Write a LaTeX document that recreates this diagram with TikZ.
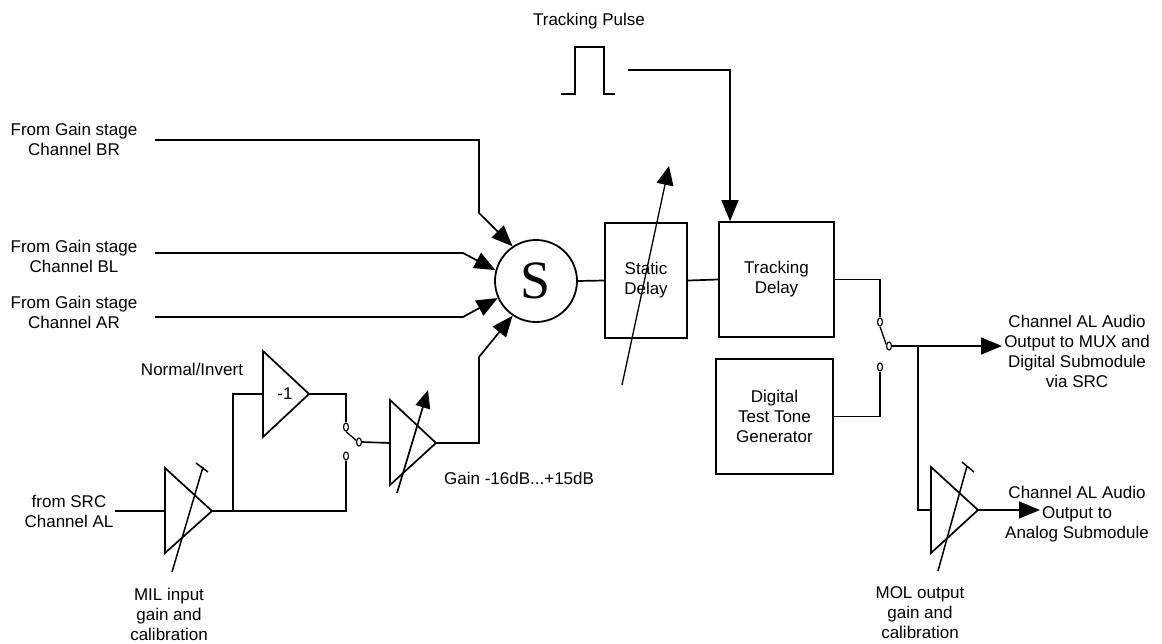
\documentclass[tikz,border=0pt]{standalone}
\usepackage{fontspec}
\setmainfont{Liberation Sans}
\newfontfamily\serifS{Liberation Serif}
\usetikzlibrary{arrows.meta,shapes.geometric}
\begin{document}
\begin{tikzpicture}[x=1pt,y=-1pt,
  wire/.style={line width=1.7pt, line join=miter},
  arr/.style={wire,-{Triangle[length=21pt,width=17pt]}},
  sarr/.style={wire,-{Triangle[length=18pt,width=15pt]}},
  thinarr/.style={line width=1.3pt,-{Triangle[length=19pt,width=17pt]}},
  blk/.style={draw, line width=1.7pt, rectangle, inner sep=0pt, align=center,
    font=\fontsize{17}{20}\selectfont},
  txt/.style={inner sep=0pt, align=center, anchor=base, font=\fontsize{17}{20}\selectfont},
  contact/.style={draw, ellipse, line width=1.2pt, fill=white, inner sep=0pt,
    minimum width=5pt, minimum height=8pt},
  ampl/.style={line width=1.7pt, line join=miter}
]
\useasboundingbox (0,0) rectangle (1162,643);

% ---- labels (anchor base = baseline of the last line)
\node[txt] (lbr) at (74,155) {From Gain stage\\Channel BR};
\node[txt] (lbl) at (74,272) {From Gain stage\\Channel BL};
\node[txt] (lar) at (74,328) {From Gain stage\\Channel AR};
\node[txt] (lsrc) at (69,527) {from SRC\\Channel AL};
\node[txt] (lmil) at (169,640) {MIL input\\gain and\\calibration};
\node[txt] (lnorm) at (192,375) {Normal/Invert};
\node[txt, anchor=base west] (lgain) at (444,484) {Gain -16dB...+15dB};
\node[txt] (lpulse) at (589,25) {Tracking Pulse};
\node[txt] (lmux) at (1077,387) {Channel AL Audio\\Output to MUX and\\Digital Submodule\\via SRC};
\node[txt] (lana) at (1077,538) {Channel AL Audio\\Output to\\Analog Submodule};
\node[txt] (lmol) at (920,638) {MOL output\\gain and\\calibration};

% ---- summing node and blocks
\node[draw, circle, line width=1.8pt, minimum size=82pt, inner sep=0pt,
  font=\serifS\fontsize{54}{54}\selectfont] (S) at (536,281) {S};
\node[blk, minimum width=82pt, minimum height=115pt] (static) at (646,280.5) {Static\\Delay};
\node[blk, minimum width=115pt, minimum height=115pt] (tdelay) at (776.5,279.5) {Tracking\\Delay};
\node[blk, minimum width=117pt, minimum height=115pt] (dttg) at (774.5,416.5) {Digital\\Test Tone\\Generator};

% ---- amplifiers
\draw[ampl] (165,468) -- (165,553) -- (212,511) -- cycle;
\coordinate (milin) at (165,511);
\coordinate (milout) at (212,511);
\draw[line width=1.5pt] (172,572) -- (203,467);
\draw[line width=1.5pt] (196,463) -- (208,472);

\draw[ampl] (263,351) -- (263,437) -- (309,394) -- cycle;
\node[txt, anchor=center] (inv) at (285,394) {-1};
\coordinate (invin) at (263,394);
\coordinate (invout) at (309,394);

\draw[ampl] (390,400) -- (390,485) -- (436,443) -- cycle;
\coordinate (gainin) at (390,443);
\coordinate (gainout) at (436,443);
\coordinate (gvb) at (397,493);
\coordinate (gvt) at (428,390);
\draw[sarr] (gvb) -- (gvt);

\draw[ampl] (931,467) -- (931,553) -- (978,510) -- cycle;
\coordinate (molin) at (931,510);
\coordinate (molout) at (978,510);
\draw[line width=1.5pt] (938,571) -- (967,466);
\draw[line width=1.5pt] (962,462) -- (974,472);

% ---- switches
\node[contact] (sw1t) at (346,427) {};
\node[contact] (sw1c) at (359,442) {};
\node[contact] (sw1b) at (346,456) {};
\node[contact] (sw2t) at (880,322) {};
\node[contact] (sw2c) at (889,346) {};
\node[contact] (sw2b) at (880,367) {};
\draw[line width=1.3pt] (sw1c.150) -- (sw1t.south);
\draw[line width=1.3pt] (sw2c.150) -- (sw2t.south);

% ---- input wires to summer
\coordinate (inbr) at (155,140);
\coordinate (inbl) at (155,253);
\coordinate (inar) at (155,317);
\draw[arr] (inbr) -- (479,140) -- (479,213) -- (S.124);
\draw[arr] (inbl) -- (463,253) -- (S.165);
\draw[arr] (inar) -- (463,317) -- (S.204);
\draw[arr] (gainout) -- (479,443) -- (479,357) -- (S.236);

% ---- left input path
\coordinate (srcin) at (115,511);
\draw[wire] (srcin) -- (milin);
\draw[wire] (milout) -- (milout -| sw1b) -- (sw1b.south);
\coordinate (split) at (233,511);
\draw[wire] (split) -- (split |- invin) -- (invin);
\draw[wire] (invout) -- (invout -| sw1t) -- (sw1t.north);
\draw[wire] (sw1c.east) -- (gainin);

% ---- delay chain
\draw[wire] (S.east) -- (static.west);
\draw[wire] (static.east) -- (tdelay.west);
\coordinate (svb) at (622,385);
\coordinate (svt) at (669,166);
\draw[thinarr] (svb) -- (svt);

% ---- tracking pulse
\draw[wire] (561,94) -- (575,94) -- (575,47) -- (604,47) -- (604,94) -- (615,94);
\coordinate (pls) at (628,70);
\coordinate (pc) at (730,70);
\draw[arr] (pls) -- (pc) -- (pc |- tdelay.north);

% ---- output switch and outputs
\draw[wire] (tdelay.east) -- (tdelay.east -| sw2t) -- (sw2t.north);
\draw[wire] (dttg.east) -- (dttg.east -| sw2b) -- (sw2b.south);
\coordinate (omux) at (1002,346);
\draw[arr] (sw2c.east) -- (omux);
\coordinate (j) at (918,346);
\draw[wire] (j) -- (j |- molin) -- (molin);
\coordinate (oana) at (1040,510);
\draw[arr] (molout) -- (oana);
\end{tikzpicture}
\end{document}
